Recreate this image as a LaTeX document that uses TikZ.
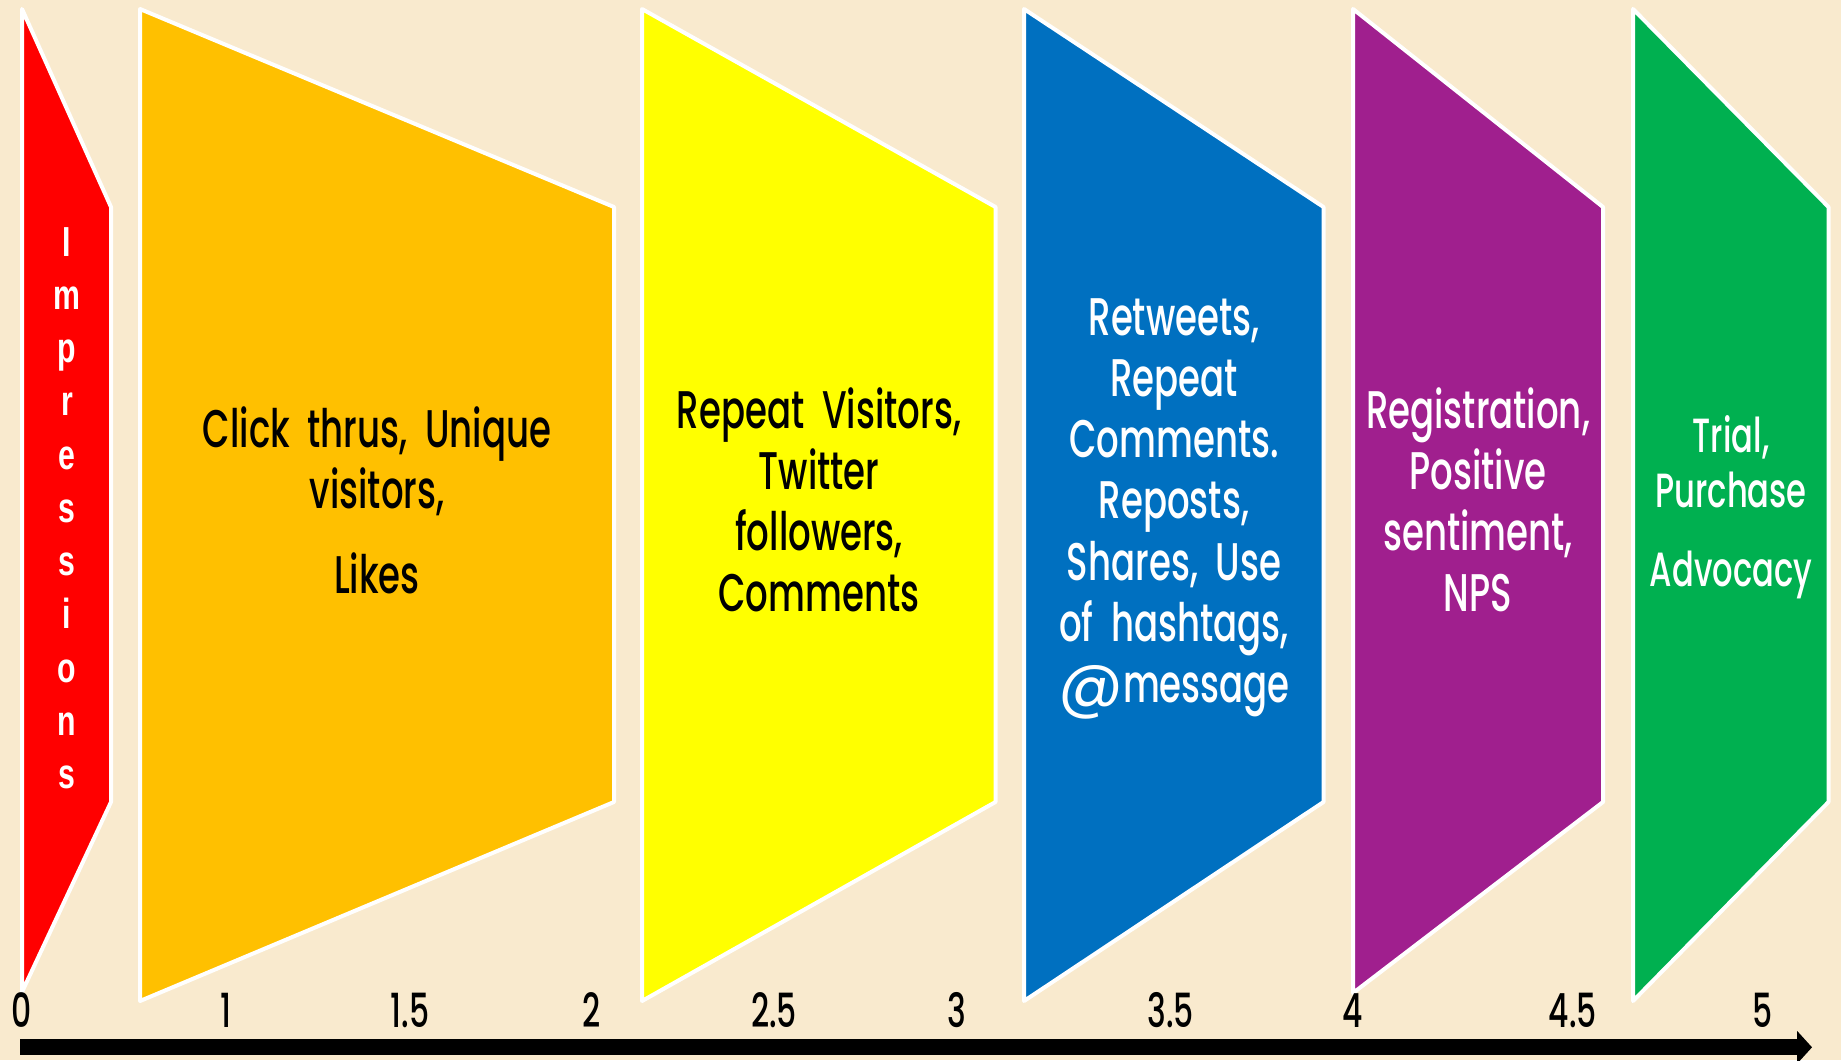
\documentclass[tikz,border=0pt]{standalone}
\usepackage{fontspec}
\setmainfont[FakeStretch=0.67,WordSpace=0.6]{Poppins Medium}
\newfontfamily\impfont[FakeStretch=0.72]{Liberation Sans}
\newfontfamily\atfont{Poppins}
\usetikzlibrary{arrows.meta}
\definecolor{bg}{RGB}{249,234,206}
\definecolor{cred}{RGB}{255,0,0}
\definecolor{corange}{RGB}{255,192,0}
\definecolor{cyellow}{RGB}{255,255,0}
\definecolor{cblue}{RGB}{0,112,192}
\definecolor{cpurple}{RGB}{160,31,142}
\definecolor{cgreen}{RGB}{0,176,80}
\begin{document}
\begin{tikzpicture}[x=1pt,y=-1pt,
  stage/.style={draw=white,line width=4pt,line join=round},
  stagetext/.style={text width=#1,align=center,anchor=base,inner sep=0pt,
    font=\fontsize{53}{61.3}\selectfont},
  imptext/.style={text width=60pt,align=center,anchor=base,inner sep=0pt,text=white,
    font=\impfont\bfseries\fontsize{42}{53.25}\selectfont},
  axlabel/.style={anchor=base,inner sep=0pt,text=black,
    font=\fontsize{47}{50}\selectfont},
  axisarrow/.style={line width=15.7pt,black,-{Triangle[length=15pt,width=33pt,line width=0pt]}}]
\useasboundingbox (0,0) rectangle (1841,1060);
\fill[bg] (0,0) rectangle (1841,1060);

% stages
\path[stage,fill=cred]    (22,9)   -- (111,207)    -- (111,802)    -- (22,992)   -- cycle;
\path[stage,fill=corange] (140,9)  -- (614,207)    -- (614,802)    -- (140,1001) -- cycle;
\path[stage,fill=cyellow] (642,9)  -- (995.5,207)  -- (995.5,802)  -- (642,1001) -- cycle;
\path[stage,fill=cblue]   (1024,9) -- (1323.5,207) -- (1323.5,802) -- (1024,1001) -- cycle;
\path[stage,fill=cpurple] (1353,9) -- (1603,207)   -- (1603,802)   -- (1353,993) -- cycle;
\path[stage,fill=cgreen]  (1633,9) -- (1828.5,207) -- (1828.5,802) -- (1633,1001) -- cycle;

% texts
\node[imptext] (timp) at (67,256) {I\\m\\p\\r\\e\\s\\s\\i\\o\\n\\s};
\node[stagetext=440pt,text=black] (torange) at (377,447) {Click thrus, Unique\\visitors,\\[24pt]Likes};
\node[stagetext=340pt,text=black] (tyellow) at (819,428) {Repeat Visitors,\\Twitter\\followers,\\Comments};
\node[stagetext=290pt,text=white] (tblue) at (1174,335) {Retweets,\\Repeat\\Comments.\\Reposts,\\Shares, Use\\of hashtags,\\{\atfont\fontsize{64}{61}\selectfont\raisebox{-4pt}{@}}message};
\node[stagetext=240pt,text=white] (tpurple) at (1478,428) {Registration,\\Positive\\sentiment,\\NPS};
\node[stagetext=190pt,text=white,font=\fontsize{48}{55}\selectfont] (tgreen) at (1731,452) {Trial,\\Purchase\\[24pt]Advocacy};

% axis
\node[axlabel] (l0)  at (21.4,1027)  {0};
\node[axlabel] (l1)  at (226,1027)   {1};
\node[axlabel] (l15) at (410,1027)   {1.5};
\node[axlabel] (l2)  at (591.5,1027) {2};
\node[axlabel] (l25) at (774,1027)   {2.5};
\node[axlabel] (l3)  at (956.7,1027) {3};
\node[axlabel] (l35) at (1170.8,1027){3.5};
\node[axlabel] (l4)  at (1353,1027)  {4};
\node[axlabel] (l45) at (1573,1027)  {4.5};
\node[axlabel] (l5)  at (1763,1027)  {5};
\coordinate (axstart) at (20,1047.3);
\coordinate (axend) at (1812,1047.3);
\draw[axisarrow] (axstart) -- (axend);
\end{tikzpicture}
\end{document}
